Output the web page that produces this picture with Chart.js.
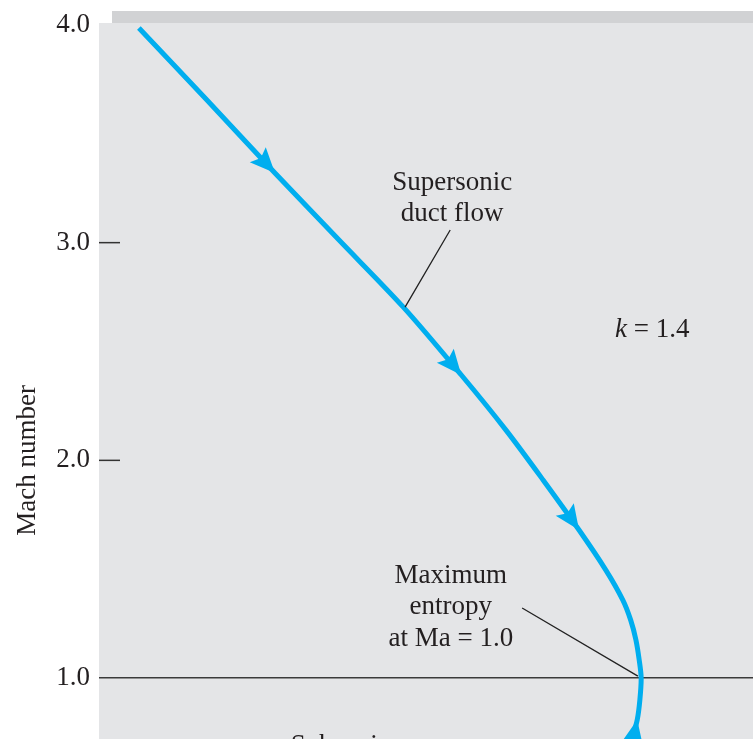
<!DOCTYPE html>
<html>
<head>
<meta charset="utf-8">
<script src="https://cdn.jsdelivr.net/npm/chart.js@4.4.1/dist/chart.umd.min.js"></script>
<style>
  html, body { margin: 0; padding: 0; background: #fff; }
  canvas { display: block; }
</style>
</head>
<body>
<canvas id="grafico" width="753" height="739"></canvas>
<script>
// Fanno line: entropy (arbitrary units) vs Mach number, k = 1.4
const entropia = [0.061, 0.165, 0.269, 0.367, 0.465, 0.554, 0.622, 0.679, 0.734, 0.775, 0.801, 0.813, 0.821, 0.826, 0.829, 0.827, 0.823, 0.815];
const mach     = [3.986, 3.655, 3.320, 3.012, 2.705, 2.392, 2.140, 1.910, 1.680, 1.496, 1.358, 1.266, 1.175, 1.083, 1.000, 0.899, 0.808, 0.720];

const yTicks = [1.0, 2.0, 3.0, 4.0];
const shortTicks = [2.0, 3.0];
const refLine = 1.0;

// arrowheads: index into the series, +1 = along data order, -1 = against it
const arrowIndex = [2, 5, 8, 16];
const arrowDir = [1, 1, 1, -1];

const azul = '#00aeef';
const tinta = '#231f20';
const serif = '"Liberation Serif", "Times New Roman", serif';
const fontSize = 27;

const ctx = document.getElementById('grafico').getContext('2d');

function texto(c, str, x, y, align, italic) {
  c.font = (italic ? 'italic ' : '') + fontSize + 'px ' + serif;
  c.textAlign = align || 'center';
  c.textBaseline = 'alphabetic';
  c.fillText(str, x, y);
}

const fondo = {
  id: 'fondo',
  beforeDraw(chart) {
    const c = chart.ctx;
    const a = chart.chartArea;
    c.save();
    c.fillStyle = '#d1d2d4';
    c.fillRect(a.left + 13, a.top - 12, a.right - a.left - 13, 12);
    c.fillStyle = '#e4e5e7';
    c.fillRect(a.left, a.top, a.right - a.left, a.bottom - a.top);
    c.restore();
  }
};

const notas = {
  id: 'notas',
  afterDraw(chart) {
    const c = chart.ctx;
    const xs = chart.scales.x;
    const ys = chart.scales.y;
    const a = chart.chartArea;
    const px = v => xs.getPixelForValue(v);
    const py = v => ys.getPixelForValue(v);
    c.save();

    // short tick marks inside the plot
    c.strokeStyle = '#333';
    c.lineWidth = 1.5;
    shortTicks.forEach(t => {
      c.beginPath();
      c.moveTo(a.left, py(t));
      c.lineTo(a.left + 21, py(t));
      c.stroke();
    });

    // arrowheads on the curve
    const pts = chart.getDatasetMeta(0).data;
    c.fillStyle = azul;
    arrowIndex.forEach((i, k) => {
      const p = pts[i];
      const prev = pts[i - arrowDir[k]];
      const next = pts[i + arrowDir[k]];
      let dx = next.x - prev.x, dy = next.y - prev.y;
      const len = Math.hypot(dx, dy);
      dx /= len; dy /= len;
      const L = 25, w = 11;
      const nx = -dy, ny = dx;
      c.beginPath();
      c.moveTo(p.x, p.y);
      c.lineTo(p.x - dx * L + nx * w, p.y - dy * L + ny * w);
      c.lineTo(p.x - dx * L * 0.82, p.y - dy * L * 0.82);
      c.lineTo(p.x - dx * L - nx * w, p.y - dy * L - ny * w);
      c.closePath();
      c.fill();
    });

    // leader lines
    c.strokeStyle = '#222';
    c.lineWidth = 1.3;
    c.beginPath();
    c.moveTo(px(0.537), py(3.058));
    c.lineTo(px(0.468), py(2.704));
    c.moveTo(px(0.647), py(1.322));
    c.lineTo(px(0.824), py(1.009));
    c.stroke();

    // labels
    c.fillStyle = tinta;
    texto(c, 'Supersonic', px(0.540), py(3.242));
    texto(c, 'duct flow', px(0.540), py(3.099));
    texto(c, 'Maximum', px(0.538), py(1.436));
    texto(c, 'entropy', px(0.538), py(1.294));
    texto(c, 'at Ma = 1.0', px(0.538), py(1.147));
    texto(c, 'Subsonic', px(0.369), py(0.655));

    // k = 1.4
    c.font = 'italic ' + fontSize + 'px ' + serif;
    const wk = c.measureText('k').width;
    c.font = fontSize + 'px ' + serif;
    const wr = c.measureText(' = 1.4').width;
    const x0 = px(0.846) - (wk + wr) / 2;
    texto(c, 'k', x0, py(2.566), 'left', true);
    texto(c, ' = 1.4', x0 + wk, py(2.566), 'left');

    // axis title
    c.save();
    c.translate(28, py(2.0));
    c.rotate(-Math.PI / 2);
    c.font = fontSize + 'px ' + serif;
    c.textAlign = 'center';
    c.textBaseline = 'middle';
    c.fillText('Mach number', 0, 0);
    c.restore();

    c.restore();
  }
};

const chart = new Chart(ctx, {
  type: 'scatter',
  data: {
    datasets: [{
      data: entropia.map((s, i) => ({ x: s, y: mach[i] })),
      showLine: true,
      borderColor: azul,
      borderWidth: 5,
      tension: 0.3,
      pointRadius: 0,
      pointHoverRadius: 0,
      borderCapStyle: 'butt'
    }]
  },
  options: {
    responsive: false,
    animation: false,
    devicePixelRatio: 1,
    layout: { padding: { top: 23, left: 0, right: 0, bottom: 0 } },
    plugins: {
      legend: { display: false },
      tooltip: { enabled: false }
    },
    scales: {
      x: { type: 'linear', min: 0, max: 1, display: false },
      y: {
        type: 'linear',
        min: 0.72,
        max: 4.009,
        afterBuildTicks: scale => { scale.ticks = yTicks.map(v => ({ value: v })); },
        afterFit: scale => {
          scale.width = 99;
          scale.paddingTop = 0;
          scale.paddingBottom = 0;
        },
        border: { display: false },
        grid: {
          drawTicks: false,
          lineWidth: 1.5,
          color: c => (c.tick && c.tick.value === refLine ? '#3a3a3a' : 'rgba(0,0,0,0)')
        },
        ticks: {
          padding: 9,
          color: tinta,
          font: { family: serif, size: fontSize },
          callback: v => v.toFixed(1)
        }
      }
    }
  },
  plugins: [fondo, notas]
});
</script>
</body>
</html>
